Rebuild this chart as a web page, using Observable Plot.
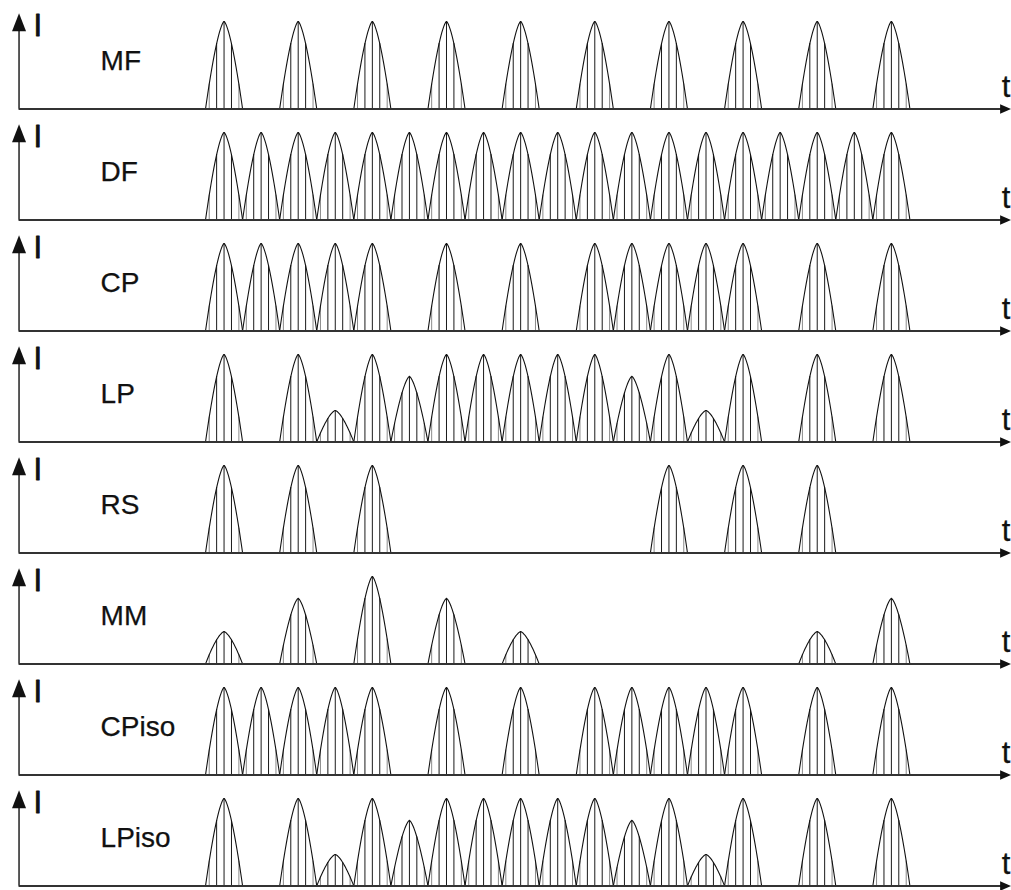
<!DOCTYPE html>
<html>
<head>
<meta charset="utf-8">
<script src="https://cdn.jsdelivr.net/npm/d3@7"></script>
<script src="https://cdn.jsdelivr.net/npm/@observablehq/plot@0.6"></script>
<style>
  html, body { margin: 0; padding: 0; background: #fff; }
  #chart svg { display: block; }
</style>
</head>
<body>
<div id="chart"></div>
<script>
// ---- data ----
// Row labels (welding current modes), top to bottom
const rowLabels = ["MF", "DF", "CP", "LP", "RS", "MM", "CPiso", "LPiso"];
// Half-period slots 0..18 along the time axis; value = relative pulse amplitude (0 = no pulse)
const ampMF    = [1, 0, 1, 0, 1, 0, 1, 0, 1, 0, 1, 0, 1, 0, 1, 0, 1, 0, 1];
const ampDF    = [1, 1, 1, 1, 1, 1, 1, 1, 1, 1, 1, 1, 1, 1, 1, 1, 1, 1, 1];
const ampCP    = [1, 1, 1, 1, 1, 0, 1, 0, 1, 0, 1, 1, 1, 1, 1, 0, 1, 0, 1];
const ampLP    = [1, 0, 1, 0.36, 1, 0.75, 1, 1, 1, 1, 1, 0.75, 1, 0.36, 1, 0, 1, 0, 1];
const ampRS    = [1, 0, 1, 0, 1, 0, 0, 0, 0, 0, 0, 0, 1, 0, 1, 0, 1, 0, 0];
const ampMM    = [0.37, 0, 0.75, 0, 1, 0, 0.75, 0, 0.37, 0, 0, 0, 0, 0, 0, 0, 0.37, 0, 0.75];
const ampCPiso = [1, 1, 1, 1, 1, 0, 1, 0, 1, 0, 1, 1, 1, 1, 1, 0, 1, 0, 1];
const ampLPiso = [1, 0, 1, 0.36, 1, 0.75, 1, 1, 1, 1, 1, 0.75, 1, 0.36, 1, 0, 1, 0, 1];
const amplitudes = [ampMF, ampDF, ampCP, ampLP, ampRS, ampMM, ampCPiso, ampLPiso];
const axisLabelY = "I";
const axisLabelX = "t";

// ---- layout / style constants ----
const W = 1011, H = 890;
const T_MIN = -6.03, T_MAX = 21.24;      // time domain across the page width
const T_AXIS = -5.53;                     // position of the vertical arrow
const V_TIP = 1.095;                      // height of the vertical arrow tip
const FONT = "'Liberation Sans', Arial, Helvetica, sans-serif";

// pulse waveform (rendering of one half-wave pulse of given amplitude)
const shape = d => Math.max(0, 1 - Math.pow(Math.abs(2 * d), 1.5));
const SAMPLES = 40;
const HATCH_DARK = [-0.2, 0, 0.2];
const HATCH_LIGHT = [-0.4, 0.4];

const pulses = rowLabels.flatMap((row, i) =>
  amplitudes[i].map((a, k) => ({row, k, a})).filter(p => p.a > 0));

const curvePts = pulses.flatMap(p =>
  d3.range(SAMPLES + 1).map(j => {
    const d = -0.5 + j / SAMPLES;
    return {row: p.row, id: p.row + "-" + p.k, t: p.k + d, v: p.a * shape(d)};
  }));

const hatchDark = pulses.flatMap(p =>
  HATCH_DARK.map(d => ({row: p.row, t: p.k + d, v: p.a * shape(d)})));
const hatchLight = pulses.flatMap(p =>
  HATCH_LIGHT.map(d => ({row: p.row, t: p.k + d, v: p.a * shape(d)})));

// arrowhead symbols (tip at origin)
const upHead = {draw(ctx) { ctx.moveTo(0, 0); ctx.lineTo(7, 18); ctx.lineTo(-7, 18); ctx.closePath(); }};
const rightHead = {draw(ctx) { ctx.moveTo(0, 0); ctx.lineTo(-11, -4.8); ctx.lineTo(-11, 4.8); ctx.closePath(); }};

const textStyle = {fill: "#111", stroke: "#111", strokeWidth: 0.25};

const chart = Plot.plot({
  width: W,
  height: H,
  margin: 0,
  style: {background: "#fff", fontFamily: FONT, color: "#111"},
  x: {domain: [T_MIN, T_MAX], axis: null},
  y: {domain: [0, 1.2], axis: null, insetTop: 2.5, insetBottom: 3.5},
  fy: {domain: rowLabels, axis: null, padding: 0},
  marks: [
    // hatch lines inside pulses
    Plot.ruleX(hatchLight, {x: "t", y1: 0, y2: "v", fy: "row", stroke: "#8a8a8a", strokeWidth: 1}),
    Plot.ruleX(hatchDark, {x: "t", y1: 0, y2: "v", fy: "row", stroke: "#1a1a1a", strokeWidth: 1}),
    // pulse envelopes
    Plot.line(curvePts, {x: "t", y: "v", z: "id", fy: "row", stroke: "#111", strokeWidth: 1.1}),
    // time axis
    Plot.ruleY(rowLabels, {fy: d => d, y: 0, x1: T_AXIS, x2: T_MAX - 0.1, stroke: "#333", strokeWidth: 2}),
    Plot.dot(rowLabels, {fy: d => d, x: T_MAX - 0.01, y: 0, symbol: rightHead, fill: "#111", stroke: "none"}),
    // current axis
    Plot.ruleX(rowLabels, {fy: d => d, x: T_AXIS, y1: 0, y2: V_TIP - 0.1, stroke: "#222", strokeWidth: 1.5}),
    Plot.dot(rowLabels, {fy: d => d, x: T_AXIS, y: V_TIP, symbol: upHead, fill: "#111", stroke: "none"}),
    // axis letters
    Plot.text(rowLabels, {fy: d => d, x: -5.14, y: 0.83, text: () => axisLabelY, textAnchor: "start", lineAnchor: "bottom", fontSize: 31, ...textStyle, strokeWidth: 0.8}),
    Plot.text(rowLabels, {fy: d => d, x: T_MAX - 0.03, y: 0.14, text: () => axisLabelX, textAnchor: "end", lineAnchor: "bottom", fontSize: 31, ...textStyle}),
    // row labels
    Plot.text(rowLabels, {fy: d => d, x: -3.33, y: 0.445, text: d => d, textAnchor: "start", lineAnchor: "bottom", fontSize: 28, ...textStyle})
  ]
});
document.getElementById("chart").appendChild(chart);
</script>
</body>
</html>
